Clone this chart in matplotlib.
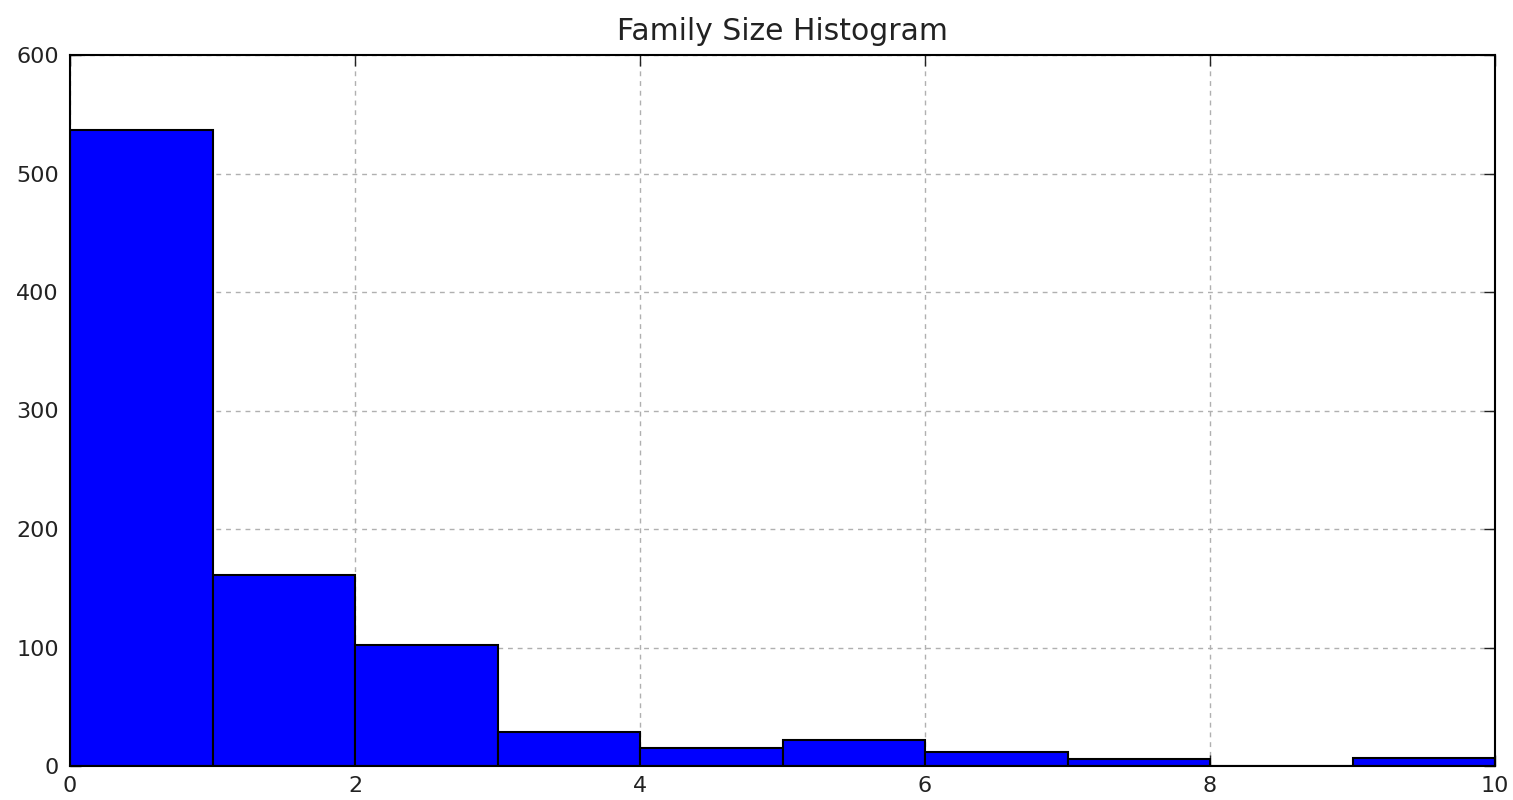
import numpy as np
import matplotlib
matplotlib.use("Agg")
import matplotlib.pyplot as plt

# Family size (siblings/spouses + parents/children) and passenger counts
family_sizes = [0, 1, 2, 3, 4, 5, 6, 7, 10]
counts = [537, 161, 102, 29, 15, 22, 12, 6, 7]
bin_edges = list(range(0, 11))
y_ticks = [0, 100, 200, 300, 400, 500, 600]
x_ticks = [0, 2, 4, 6, 8, 10]

fig = plt.figure(figsize=(15.13, 8.0), dpi=100)
ax = fig.add_axes([70 / 1513, 34 / 800, 1425 / 1513, 711 / 800])

ax.hist(family_sizes, bins=bin_edges, weights=counts, color="#0000ff",
        edgecolor="black", linewidth=1.5, zorder=2)

ax.set_xlim(0, 10)
ax.set_ylim(0, 600)
ax.set_xticks(x_ticks)
ax.set_yticks(y_ticks)
ax.grid(True, color="#b0b0b0", linestyle=(0, (3.5, 3.5)), linewidth=1.0, zorder=0)
ax.set_axisbelow(True)
ax.tick_params(direction="in", length=8, width=1, top=True, right=True,
               labelsize=16, colors="#222222")
ax.tick_params(axis="x", pad=7)
ax.tick_params(axis="y", pad=8)
for spine in ax.spines.values():
    spine.set_linewidth(1.5)
ax.set_title("Family Size Histogram", fontsize=21.5, color="#222222", pad=11)

fig.savefig("out.png", dpi=100)
